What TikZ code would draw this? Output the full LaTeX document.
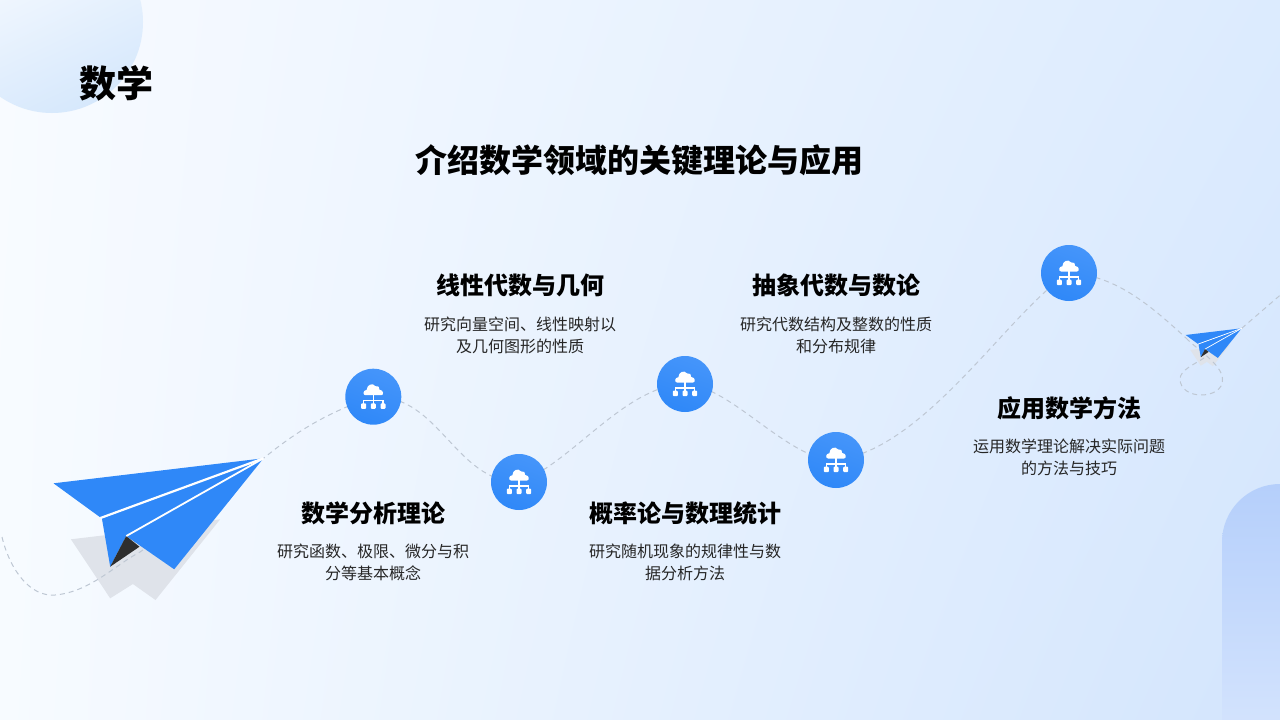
\documentclass[tikz,border=0pt]{standalone}
\usepackage{fontspec}
\usetikzlibrary{shadings}
\setmainfont{Noto Sans CJK SC}
\definecolor{bgTL}{HTML}{F8FBFF}
\definecolor{bgTR}{HTML}{DCEBFE}
\definecolor{bgBL}{HTML}{F7FBFF}
\definecolor{bgBR}{HTML}{D3E5FD}
\definecolor{planeblue}{HTML}{2F88F8}
\definecolor{hublight}{HTML}{4595FA}
\definecolor{planedark}{HTML}{2E2E2E}
\definecolor{shadowgrey}{HTML}{DFE3EA}
\definecolor{dashgrey}{HTML}{BEC7D3}
\definecolor{cornerA}{HTML}{D6E8FC}
\definecolor{cornerB}{HTML}{B5CFFB}
\definecolor{cornerC}{HTML}{DCE9FE}
\tikzset{
  x=1pt,y=-1pt,
  hub/.style={circle,minimum size=56pt,inner sep=0pt,top color=hublight,bottom color=planeblue,shading angle=-20},
  headtext/.style={font=\fontsize{24}{30}\selectfont\bfseries,text=black,inner sep=0pt,align=center},
  bodytext/.style={font=\fontsize{16}{22}\selectfont,text=black!85,inner sep=0pt,align=center},
  route/.style={draw=dashgrey,line width=1pt,dash pattern=on 5pt off 4pt},
  planepic/.pic={
    \fill[shadowgrey] (-192.6,81) -- (-156.6,76.7) -- (-43.3,61) -- (-108,141.7) -- (-130.6,125.7) -- (-153.3,140) -- cycle;
  },
  planetop/.pic={
    \fill[planeblue] (0,0) -- (-210,25) -- (-163.3,59) -- cycle;
    \fill[planeblue] (0,0) -- (-161.6,60) -- (-153.3,108.4) -- (-137.3,77.7) -- cycle;
    \fill[planeblue] (0,0) -- (-137.3,77.7) -- (-89.3,111) -- cycle;
    \fill[planedark] (-137.3,77.7) -- (-124,88.4) -- (-153.3,108.4) -- cycle;
  }
}
\newcommand{\neticon}[1]{%
  \begin{scope}[shift={(#1)}]
    \fill[white] (-8,-1.5) .. controls (-10.6,-1.5) and (-10.6,-6.6) .. (-6.6,-6.8)
      .. controls (-6.6,-12) and (-0.6,-14.4) .. (2,-10.6)
      .. controls (4.6,-11.6) and (6.8,-9.4) .. (6.2,-7)
      .. controls (10.6,-6.8) and (10.6,-1.5) .. (8,-1.5) -- cycle;
    \draw[white,line width=1.5pt] (0,-2) -- (0,7.5) (-9.6,7.5) -- (-9.6,4) -- (9.6,4) -- (9.6,7.5);
    \fill[white,rounded corners=1pt] (-12.2,6.6) rectangle (-7.2,12.2);
    \fill[white,rounded corners=1pt] (-2.5,6.6) rectangle (2.5,12.2);
    \fill[white,rounded corners=1pt] (7.2,6.6) rectangle (12.2,12.2);
  \end{scope}}
\begin{document}
\begin{tikzpicture}
\useasboundingbox (0,0) rectangle (1280,720);
\clip (0,0) rectangle (1280,720);
% background
\shade[upper left=bgTL,upper right=bgTR,lower left=bgBL,lower right=bgBR] (0,0) rectangle (1280,720);
% corner shapes
\shade[top color=bgTL,bottom color=cornerA,shading angle=25] (52,22) circle[radius=91];
\shade[top color=cornerB,bottom color=cornerC,rounded corners=58pt] (1222,484) rectangle (1345,800);
% coordinates for route
\coordinate (routeStart) at (2,537);
\coordinate (bigTip) at (263.5,458.3);
\coordinate (smallTip) at (1241.7,328.3);
\coordinate (routeEnd) at (1285,291);
\coordinate (smallTail) at (1186,338);
% shadow of big plane, then route
\pic at (bigTip) {planepic};
\begin{scope}[shift={(smallTip)},scale=.267]
  \pic[transform shape] {planepic};
\end{scope}
% hubs positions first
\path (373.3,396.7) coordinate (p1) (519,482) coordinate (p2) (685,384) coordinate (p3) (836,460) coordinate (p4) (1069,273) coordinate (p5);
\path[route] (routeStart) .. controls (10,570) and (30,597) .. (55,595)
  .. controls (90,592) and (115,565) .. (140,552)
  .. controls (185,520) and (225,490) .. (bigTip)
  .. controls (290,437) and (320,415) .. (p1);
\path[route] (p1) .. controls (440,395) and (455,482) .. (p2);
\path[route] (p2) .. controls (570,465) and (625,385) .. (p3);
\path[route] (p3) .. controls (730,385) and (790,462) .. (p4);
\path[route] (p4) .. controls (925,450) and (1010,310) .. (p5);
\path[route] (p5) .. controls (1115,275) and (1150,305) .. (smallTail);
\path[route] (smallTail) .. controls (1195,348) and (1222,364) .. (1222.5,379)
  .. controls (1223,390) and (1212,395) .. (1201,395)
  .. controls (1190,395) and (1180,389) .. (1180,379)
  .. controls (1180,370) and (1195,364) .. (1204,358);
\path[route] (smallTip) -- (routeEnd);
% planes
\pic at (bigTip) {planetop};
\draw[white,line width=2.2pt] (bigTip) -- (100.5,518);
\draw[white,line width=1.8pt] (bigTip) -- (126.3,536);
\begin{scope}[shift={(smallTip)},scale=.267]
  \pic[transform shape] {planetop};
  \draw[white,line width=.7pt] (0,0) -- (-163.3,59);
  \draw[white,line width=.7pt] (0,0) -- (-137.3,77.7);
\end{scope}
% hubs
\foreach \n in {1,...,5} {
  \node[hub] (n\n) at (p\n) {};
  \neticon{n\n.center}
}
% titles
\node[font=\fontsize{37}{40}\selectfont\bfseries,text=black,inner sep=0pt] (title) at (116,83) {数学};
\node[font=\fontsize{32}{38}\selectfont\bfseries,text=black,inner sep=0pt] (subtitle) at (639,160) {介绍数学领域的关键理论与应用};
% items
\node[headtext] (h1) at (373,513) {数学分析理论};
\node[bodytext] (b1) at (373,562) {研究函数、极限、微分与积\\分等基本概念};
\node[headtext] (h2) at (520,285) {线性代数与几何};
\node[bodytext] (b2) at (520,335) {研究向量空间、线性映射以\\及几何图形的性质};
\node[headtext] (h3) at (685,513) {概率论与数理统计};
\node[bodytext] (b3) at (685,562) {研究随机现象的规律性与数\\据分析方法};
\node[headtext] (h4) at (836,285) {抽象代数与数论};
\node[bodytext] (b4) at (836,335) {研究代数结构及整数的性质\\和分布规律};
\node[headtext] (h5) at (1069,408) {应用数学方法};
\node[bodytext] (b5) at (1069,457) {运用数学理论解决实际问题\\的方法与技巧};
\end{tikzpicture}
\end{document}
